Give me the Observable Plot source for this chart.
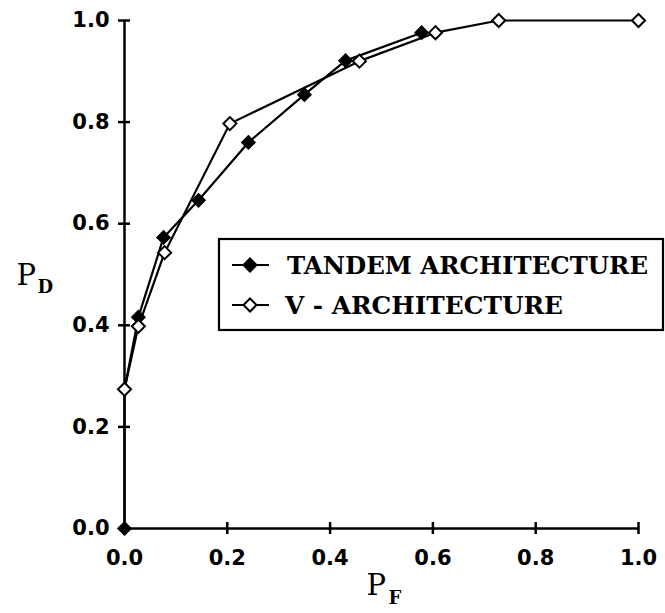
<!DOCTYPE html>
<html>
<head>
<meta charset="utf-8">
<script src="https://cdn.jsdelivr.net/npm/d3@7"></script>
<script src="https://cdn.jsdelivr.net/npm/@observablehq/plot@0.6"></script>
<style>
  html, body { margin: 0; padding: 0; background: #fff; }
</style>
</head>
<body>
<div id="chart"></div>
<script>
// ROC curves: probability of detection (PD) vs. probability of false alarm (PF)
const tandemPF = [0.0, 0.0, 0.027, 0.076, 0.144, 0.241, 0.350, 0.430, 0.578];
const tandemPD = [0.0, 0.274, 0.416, 0.573, 0.646, 0.760, 0.854, 0.921, 0.976];

const vPF = [0.0, 0.027, 0.078, 0.205, 0.457, 0.605, 0.728, 1.0];
const vPD = [0.274, 0.398, 0.543, 0.797, 0.920, 0.976, 1.0, 1.0];

const xTicks = [0.0, 0.2, 0.4, 0.6, 0.8, 1.0];
const yTicks = [0.0, 0.2, 0.4, 0.6, 0.8, 1.0];

const seriesNames = ["TANDEM ARCHITECTURE", "V - ARCHITECTURE"];

const tandem = tandemPF.map((x, i) => ({x, y: tandemPD[i]}));
const vArch = vPF.map((x, i) => ({x, y: vPD[i]}));
// hide the tandem marker that sits under the V-architecture start point
const tandemMarks = tandem.filter((d, i) => i !== 1);

const fmt = d3.format(".1f");
const tickFont = "'DejaVu Sans', sans-serif";
const serifFont = "'DejaVu Serif', serif";

// Legend drawn as a custom render mark
function legend(index, scales, values, dims) {
  const g = d3.create("svg:g");
  g.append("rect")
    .attr("x", 219).attr("y", 239)
    .attr("width", 444).attr("height", 91)
    .attr("fill", "white").attr("stroke", "black").attr("stroke-width", 2.2);
  const rows = [
    {name: seriesNames[0], y: 265, base: 274, filled: true, len: 361, x: 287},
    {name: seriesNames[1], y: 305, base: 314, filled: false, len: 278, x: 285}
  ];
  const sym = d3.symbol(d3.symbolDiamond2, 108)();
  for (const r of rows) {
    g.append("line")
      .attr("x1", 232).attr("x2", 269).attr("y1", r.y).attr("y2", r.y)
      .attr("stroke", "black").attr("stroke-width", 2.2);
    g.append("path")
      .attr("d", sym)
      .attr("transform", `translate(250,${r.y})`)
      .attr("fill", r.filled ? "black" : "white")
      .attr("stroke", "black").attr("stroke-width", 2);
    g.append("text")
      .attr("x", r.x).attr("y", r.base)
      .attr("text-anchor", "start")
      .attr("font-family", serifFont)
      .attr("font-weight", "bold")
      .attr("font-size", 24)
      .attr("textLength", r.len)
      .attr("lengthAdjust", "spacingAndGlyphs")
      .attr("fill", "black")
      .text(r.name);
  }
  return g.node();
}

const chart = Plot.plot({
  width: 665,
  height: 613,
  marginLeft: 124,
  marginRight: 27,
  marginTop: 20,
  marginBottom: 85,
  x: {domain: [0, 1], axis: null},
  y: {domain: [0, 1], axis: null},
  style: {background: "white", color: "black", overflow: "visible"},
  marks: [
    // axis lines
    Plot.ruleY([0], {stroke: "black", strokeWidth: 2.5}),
    Plot.ruleX([0], {stroke: "black", strokeWidth: 2.5}),
    // ticks crossing the axes
    Plot.axisX(xTicks, {tickSize: 12, dy: -6, tickFormat: () => "", label: null, strokeWidth: 2.5}),
    Plot.axisY(yTicks, {tickSize: 12, dx: 6, tickFormat: () => "", label: null, strokeWidth: 2.5}),
    // tick labels
    Plot.axisX(xTicks, {tickSize: 0, tickPadding: 22, tickFormat: fmt, label: null,
      fontSize: 21, fontWeight: "bold", fontFamily: tickFont}),
    Plot.axisY(yTicks, {tickSize: 0, tickPadding: 15, tickFormat: fmt, label: null,
      fontSize: 21, fontWeight: "bold", fontFamily: tickFont}),
    // axis titles PD and PF
    Plot.text(["P"], {frameAnchor: "left", text: d => d, textAnchor: "start", lineAnchor: "bottom",
      dx: -108, dy: 10, fontSize: 29, fontFamily: serifFont, fill: "black"}),
    Plot.text(["D"], {frameAnchor: "left", text: d => d, textAnchor: "start", lineAnchor: "bottom",
      dx: -87, dy: 18, fontSize: 18, fontWeight: "bold", fontFamily: serifFont, fill: "black"}),
    Plot.text(["P"], {frameAnchor: "bottom", text: d => d, textAnchor: "start", lineAnchor: "bottom",
      dx: -15, dy: 66, fontSize: 29, fontFamily: serifFont, fill: "black"}),
    Plot.text(["F"], {frameAnchor: "bottom", text: d => d, textAnchor: "start", lineAnchor: "bottom",
      dx: 7, dy: 75, fontSize: 18, fontWeight: "bold", fontFamily: serifFont, fill: "black"}),
    // curves
    Plot.line(vArch, {x: "x", y: "y", stroke: "black", strokeWidth: 2.2, curve: "linear"}),
    Plot.line(tandem, {x: "x", y: "y", stroke: "black", strokeWidth: 2.2, curve: "linear"}),
    Plot.dot(tandemMarks, {x: "x", y: "y", symbol: "diamond2", r: 5.9, fill: "black", stroke: "black", strokeWidth: 1.5}),
    Plot.dot(vArch, {x: "x", y: "y", symbol: "diamond2", r: 5.9, fill: "white", stroke: "black", strokeWidth: 2}),
    legend
  ]
});

document.getElementById("chart").appendChild(chart);
</script>
</body>
</html>
